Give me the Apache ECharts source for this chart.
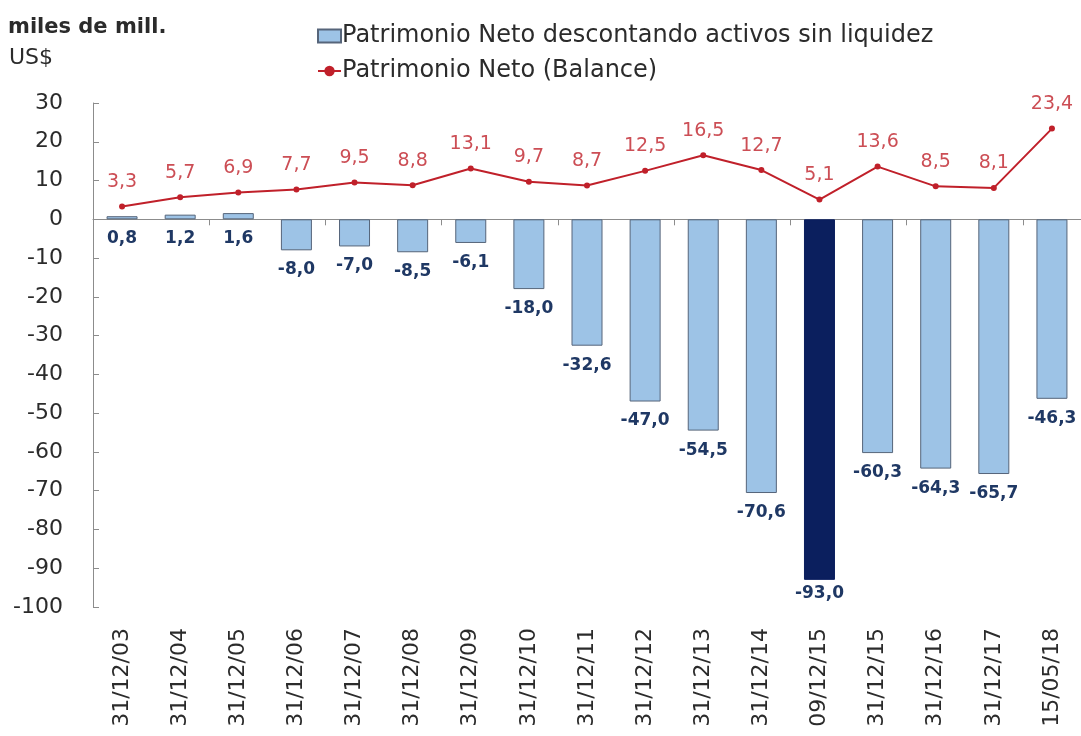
<!DOCTYPE html>
<html><head><meta charset="utf-8">
<script src="https://cdn.jsdelivr.net/npm/echarts@6/dist/echarts.min.js"></script>
<style>html,body{margin:0;padding:0;background:#fff}#c{width:1081px;height:736px}</style>
</head><body><div id="c"></div>
<script>
const categories = ['31/12/03','31/12/04','31/12/05','31/12/06','31/12/07','31/12/08','31/12/09','31/12/10','31/12/11','31/12/12','31/12/13','31/12/14','09/12/15','31/12/15','31/12/16','31/12/17','15/05/18'];
const netoLiquido = [0.8,1.2,1.6,-8.0,-7.0,-8.5,-6.1,-18.0,-32.6,-47.0,-54.5,-70.6,-93.0,-60.3,-64.3,-65.7,-46.3];
const netoBalance = [3.3,5.7,6.9,7.7,9.5,8.8,13.1,9.7,8.7,12.5,16.5,12.7,5.1,13.6,8.5,8.1,23.4];
const highlightCategory = '09/12/15';
const yTicks = {min:-100, max:30, interval:10};

const FONT = '"DejaVu Sans", sans-serif';
const fmt = v => v.toFixed(1).replace('.', ',');

const chart = echarts.init(document.getElementById('c'), null, {renderer:'canvas'});
chart.setOption({
  animation:false,
  textStyle:{fontFamily:FONT},
  graphic:[
    {type:'text', left:8, top:17, style:{text:'miles de mill.', font:'bold 21px '+FONT, fill:'#2b2b2b'}},
    {type:'text', left:9, top:47, style:{text:'US$', font:'22px '+FONT, fill:'#2b2b2b'}}
  ],
  legend:{
    orient:'vertical', left:312, top:19, itemGap:11, itemWidth:23, itemHeight:13,
    textStyle:{fontSize:24, color:'#2b2b2b', fontFamily:FONT, padding:[0,0,0,-4]},
    data:[
      {name:'Patrimonio Neto descontando activos sin liquidez', icon:'rect'},
      {name:'Patrimonio Neto (Balance)'}
    ]
  },
  grid:{left:93, right:0, top:103, bottom:129, containLabel:false},
  xAxis:[
    {type:'category', data:categories, position:'bottom',
     axisLine:{onZero:true, lineStyle:{color:'#8c8c8c', width:1}},
     axisTick:{show:true, length:6, lineStyle:{color:'#8c8c8c'}},
     axisLabel:{show:false}, splitLine:{show:false}},
    {type:'category', data:categories, position:'bottom', gridIndex:0,
     axisLine:{show:false, onZero:false}, axisTick:{show:false},
     axisLabel:{rotate:90, margin:21, fontSize:22, color:'#2b2b2b', fontFamily:FONT}}
  ],
  yAxis:{type:'value', min:yTicks.min, max:yTicks.max, interval:yTicks.interval,
    axisLine:{show:true, lineStyle:{color:'#8c8c8c'}},
    axisTick:{show:true, inside:true, length:6, lineStyle:{color:'#8c8c8c'}},
    axisLabel:{fontSize:22, color:'#2b2b2b', margin:30, fontFamily:FONT},
    splitLine:{show:false}},
  series:[
    {name:'Patrimonio Neto descontando activos sin liquidez', type:'bar', xAxisIndex:0,
     barWidth:31,
     itemStyle:{color:'#9DC3E6', borderColor:'#56657a', borderWidth:1},
     data:netoLiquido.map((v,i)=>categories[i]===highlightCategory ?
        {value:v, itemStyle:{color:'#0B1F5E', borderColor:'#0B1F5E'}, label:{distance:5}} : v),
     label:{show:true, position:'bottom', distance:11, color:'#1F3864', fontSize:17, fontWeight:'bold',
       fontFamily:FONT, formatter:p=>fmt(p.value)}},
    {name:'Patrimonio Neto (Balance)', type:'line', xAxisIndex:0,
     data:netoBalance, symbol:'circle', symbolSize:6,
     lineStyle:{color:'#C0202A', width:2}, itemStyle:{color:'#C0202A'},
     label:{show:true, position:'top', distance:12, color:'#CC4E55', fontSize:19, fontFamily:FONT,
       formatter:p=>fmt(p.value)}}
  ]
});
</script></body></html>
